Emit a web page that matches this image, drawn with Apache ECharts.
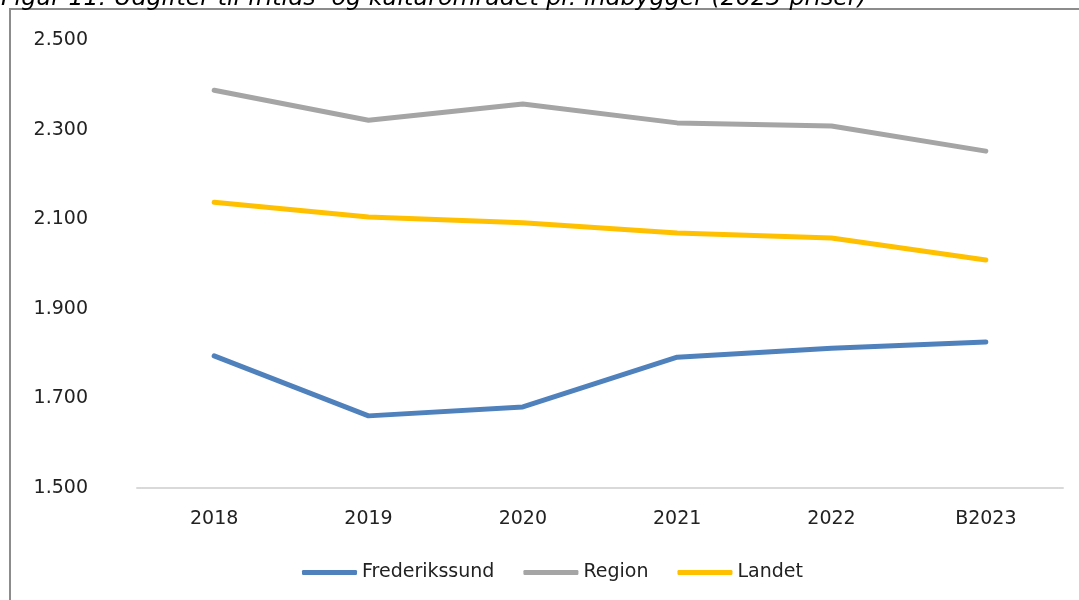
<!DOCTYPE html>
<html>
<head>
<meta charset="utf-8">
<script src="https://cdn.jsdelivr.net/npm/echarts@6/dist/echarts.min.js"></script>
<style>
  html, body { margin: 0; padding: 0; background: #fff; }
  #chart { width: 1079px; height: 600px; }
</style>
</head>
<body>
<div id="chart"></div>
<script>
var years = ['2018', '2019', '2020', '2021', '2022', 'B2023'];
var frederikssund = [1795, 1661, 1681, 1792, 1812, 1826];
var region = [2388, 2321, 2357, 2315, 2308, 2252];
var landet = [2138, 2105, 2092, 2069, 2058, 2009];

var chart = echarts.init(document.getElementById('chart'));

var fmt = function (v) {
  return String(v).replace(/\B(?=(\d{3})+(?!\d))/g, '.');
};

var option = {
  animation: false,
  textStyle: { fontFamily: 'DejaVu Sans' },
  graphic: [
    {
      type: 'rect',
      shape: { x: 10, y: 9, width: 1200, height: 800 },
      style: { fill: 'none', stroke: '#8c8c8c', lineWidth: 2 }
    },
    {
      type: 'text',
      left: 1,
      top: -13,
      style: {
        text: 'Figur 11: Udgifter til fritids- og kulturområdet pr. indbygger (2023-priser)',
        font: 'italic 23.7px "DejaVu Sans"',
        fill: '#000'
      }
    }
  ],
  legend: {
    bottom: 13,
    left: 297,
    itemWidth: 55,
    itemHeight: 5,
    itemGap: 29,
    icon: 'roundRect',
    textStyle: { fontSize: 19, color: '#222' },
    data: ['Frederikssund', 'Region', 'Landet']
  },
  grid: { left: 137, right: 16, top: 40, bottom: 112 },
  xAxis: {
    type: 'category',
    data: years,
    boundaryGap: true,
    axisLine: { lineStyle: { color: '#d9d9d9', width: 2 } },
    axisTick: { show: false },
    axisLabel: { fontSize: 19, color: '#222', margin: 22 }
  },
  yAxis: {
    type: 'value',
    min: 1500,
    max: 2500,
    interval: 200,
    axisLine: { show: false },
    axisTick: { show: false },
    splitLine: { show: false },
    axisLabel: { fontSize: 19, color: '#222', margin: 49, formatter: fmt }
  },
  series: [
    {
      name: 'Frederikssund', type: 'line', data: frederikssund,
      symbol: 'none', lineStyle: { width: 5, color: '#4f81bd', cap: 'round' },
      itemStyle: { color: '#4f81bd' }
    },
    {
      name: 'Region', type: 'line', data: region,
      symbol: 'none', lineStyle: { width: 5, color: '#a5a5a5', cap: 'round' },
      itemStyle: { color: '#a5a5a5' }
    },
    {
      name: 'Landet', type: 'line', data: landet,
      symbol: 'none', lineStyle: { width: 5, color: '#ffc000', cap: 'round' },
      itemStyle: { color: '#ffc000' }
    }
  ]
};

chart.setOption(option);
</script>
</body>
</html>
